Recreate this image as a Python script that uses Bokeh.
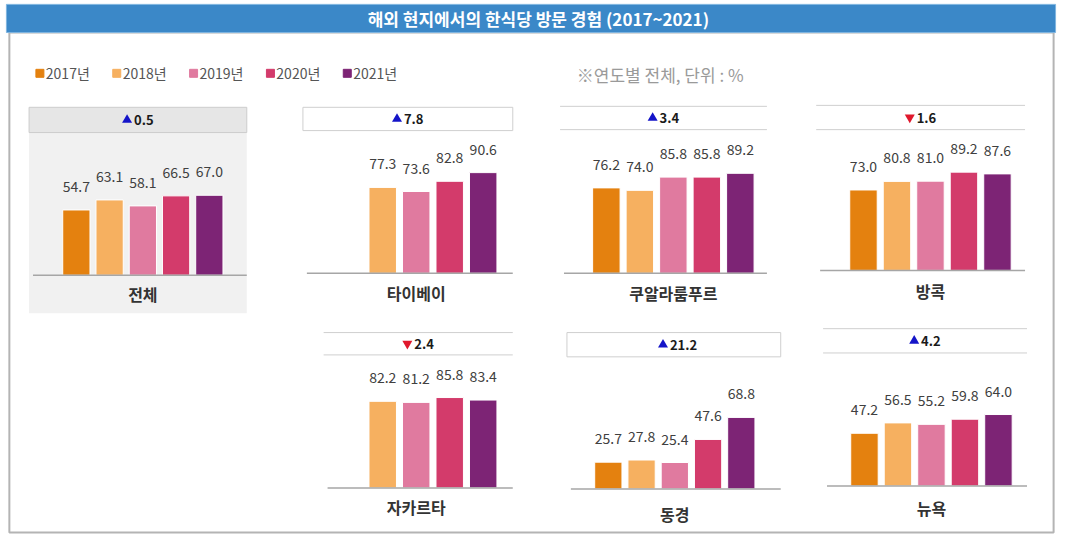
from bokeh.plotting import figure
from bokeh.models import Range1d, ColumnDataSource
from bokeh.embed import file_html
from bokeh.resources import INLINE
from bokeh.core.properties import value

# ---------------- data ----------------
years = ["2017년", "2018년", "2019년", "2020년", "2021년"]
colors = ["#E4810F", "#F6B060", "#E07A9F", "#D33B6B", "#7D2475"]
cities = ["전체", "타이베이", "쿠알라룸푸르", "방콕", "자카르타", "동경", "뉴욕"]
v_total = [54.7, 63.1, 58.1, 66.5, 67.0]
v_taipei = [None, 77.3, 73.6, 82.8, 90.6]
v_kualalumpur = [76.2, 74.0, 85.8, 85.8, 89.2]
v_bangkok = [73.0, 80.8, 81.0, 89.2, 87.6]
v_jakarta = [None, 82.2, 81.2, 85.8, 83.4]
v_tokyo = [25.7, 27.8, 25.4, 47.6, 68.8]
v_newyork = [47.2, 56.5, 55.2, 59.8, 64.0]
title = "해외 현지에서의 한식당 방문 경험 (2017~2021)"
note = "※연도별 전체, 단위 : %"

series = [v_total, v_taipei, v_kualalumpur, v_bangkok, v_jakarta, v_tokyo, v_newyork]

# ---------------- layout (design coordinates, 1076 x 551) ----------------
FONT = value("Noto Sans CJK KR")
W, H = 1060, 535          # canvas size
DW, DH = 1076, 551        # design space mapped onto the canvas

layout = [
    dict(c0=77, step=33.75, base=283, k=1.23, hx=(29, 250), hy=(110, 136), style="fill", lab=19),
    dict(c0=354, step=34, base=281, k=1.145, hx=(307, 520), hy=(110, 134), style="box", lab=20),
    dict(c0=615, step=34, base=281, k=1.155, hx=(568, 778), hy=(109, 133), style="lines", lab=20),
    dict(c0=876, step=34, base=278, k=1.135, hx=(828, 1040), hy=(108, 133), style="lines", lab=21),
    dict(c0=354, step=34, base=502, k=1.085, hx=(328, 520), hy=(342, 365), style="lines", lab=19),
    dict(c0=617, step=33.75, base=503, k=1.07, hx=(575, 792), hy=(342, 367), style="box", lab=25),
    dict(c0=877, step=34, base=500, k=1.15, hx=(835, 1042), hy=(338, 363), style="lines", lab=22),
]

p = figure(width=W, height=H, x_range=Range1d(0, DW), y_range=Range1d(DH, 0),
           x_axis_type=None, y_axis_type=None, toolbar_location=None,
           output_backend="svg", min_border=0, outline_line_color=None,
           background_fill_color="white", border_fill_color="white")

# outer frame
p.quad(left=9, right=1069, top=33, bottom=548, fill_color=None, line_color="#b4b4b4", line_width=2)
# title bar
p.quad(left=6, right=1071, top=4, bottom=33, fill_color="#3B88C8", line_color="#7fb5e0", line_width=1)
p.text(x=[546], y=[19], text=[title], text_color="white", text_font=FONT, text_font_size="17px",
       text_font_style="bold", text_align="center", text_baseline="middle")

# legend
for i, (yr, c) in enumerate(zip(years, colors)):
    lx = 40 + i * 78
    p.scatter(x=[lx], y=[75], marker="square", size=8, fill_color=c, line_color=c)
    p.text(x=[lx + 6], y=[75], text=[yr], text_color="#555555", text_font=FONT, text_font_size="14px",
           text_align="left", text_baseline="middle")
p.text(x=[585], y=[76], text=[note], text_color="#9a9a9a", text_font=FONT, text_font_size="17px",
       text_align="left", text_baseline="middle")

extra_x, extra_y = {}, {}
for i, L in enumerate(layout):
    xs = -L["c0"] / L["step"]
    extra_x[f"x{i}"] = Range1d(xs, xs + DW / L["step"])
    ye = L["base"] / L["k"]
    extra_y[f"y{i}"] = Range1d(ye - DH / L["k"], ye)
p.extra_x_ranges = extra_x
p.extra_y_ranges = extra_y

for i, (city, vals, L) in enumerate(zip(cities, series, layout)):
    xn, yn = f"x{i}", f"y{i}"
    hx0, hx1 = L["hx"]
    hy0, hy1 = L["hy"]
    cx = (hx0 + hx1) / 2
    cy = (hy0 + hy1) / 2
    # header decorations
    if L["style"] == "fill":
        p.quad(left=hx0, right=hx1, top=hy0, bottom=322, fill_color="#f1f1f1", line_color=None)
        p.quad(left=hx0, right=hx1, top=hy0, bottom=hy1, fill_color="#e6e6e6", line_color="#cdcdcd")
    elif L["style"] == "box":
        p.quad(left=hx0, right=hx1, top=hy0, bottom=hy1, fill_color="white", line_color="#cfcfcf")
    else:
        p.segment(x0=[hx0, hx0], x1=[hx1, hx1], y0=[hy0, hy1], y1=[hy0, hy1], line_color="#cfcfcf", line_width=1)
    # change 2020 -> 2021
    d = round(vals[4] - vals[3], 1)
    up = d >= 0
    p.scatter(x=[cx - 11], y=[cy], marker="triangle" if up else "inverted_triangle", size=10,
              fill_color="#1414C8" if up else "#E0182C", line_color=None)
    p.text(x=[cx - 4], y=[cy], text=[f"{abs(d):.1f}"], text_color="#1a1a1a", text_font=FONT,
           text_font_size="13px", text_font_style="bold", text_align="left", text_baseline="middle")

    # bars
    idx = [j for j, v in enumerate(vals) if v is not None]
    src = ColumnDataSource(dict(
        x=idx,
        top=[vals[j] for j in idx],
        color=[colors[j] for j in idx],
        label=[f"{vals[j]:.1f}" for j in idx],
    ))
    p.vbar(x="x", top="top", bottom=0, width=0.82, fill_color="color", line_color="white", line_width=1,
           source=src, x_range_name=xn, y_range_name=yn)
    p.text(x="x", y="top", text="label", source=src, x_range_name=xn, y_range_name=yn,
           text_color="#404040", text_font=FONT, text_font_size="14px", text_align="center",
           text_baseline="bottom", y_offset=-18)
    # baseline axis line
    p.segment(x0=[hx0 + 4], x1=[hx1], y0=[0], y1=[0], y_range_name=yn, line_color="#a6a6a6", line_width=1.5)
    # category label
    p.text(x=[2], y=[0], text=[city], x_range_name=xn, y_range_name=yn, y_offset=L["lab"],
           text_color="#333333", text_font=FONT, text_font_size="16px", text_font_style="bold",
           text_align="center", text_baseline="middle")

open("out.html", "w").write(file_html(p, INLINE))
